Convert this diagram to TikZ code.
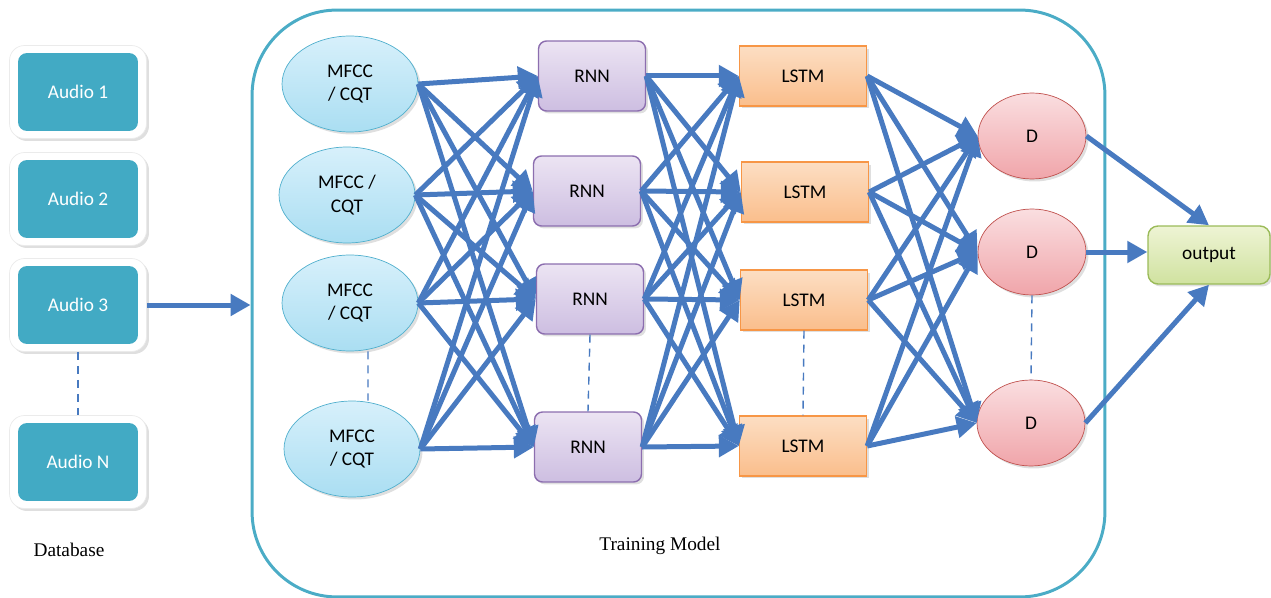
\documentclass[tikz,border=0pt]{standalone}
\usepackage{fontspec}
\setmainfont{Liberation Serif}
\newfontfamily\calib{Carlito}
\usetikzlibrary{arrows.meta, shapes.geometric, shadows}

\definecolor{audiofill}{RGB}{66,170,196}
\definecolor{modelline}{RGB}{75,172,198}
\definecolor{linkblue}{RGB}{72,122,192}
\definecolor{mfccline}{RGB}{80,175,205}
\definecolor{mfcctop}{RGB}{215,240,251}
\definecolor{mfccbot}{RGB}{170,222,242}
\definecolor{rnnline}{RGB}{140,110,175}
\definecolor{rnntop}{RGB}{236,228,243}
\definecolor{rnnbot}{RGB}{205,190,225}
\definecolor{lstmline}{RGB}{247,150,70}
\definecolor{lstmtop}{RGB}{252,222,195}
\definecolor{lstmbot}{RGB}{250,190,140}
\definecolor{dline}{RGB}{192,80,77}
\definecolor{dtop}{RGB}{250,222,224}
\definecolor{dbot}{RGB}{240,165,170}
\definecolor{outline}{RGB}{155,187,89}
\definecolor{outtop}{RGB}{238,244,212}
\definecolor{outbot}{RGB}{208,226,160}

\tikzset{
  soft/.style={drop shadow={shadow xshift=0.05cm, shadow yshift=-0.05cm, opacity=0.25}},
  audioframe/.style={rectangle, rounded corners=0.3cm, fill=white, draw=black!8, soft,
    minimum width=2.74cm, minimum height=1.86cm},
  audiobox/.style={rectangle, rounded corners=0.18cm, fill=audiofill, text=white,
    font=\calib\fontsize{11}{13}\selectfont, minimum width=2.4cm, minimum height=1.56cm},
  mfcc/.style={ellipse, draw=mfccline, top color=mfcctop, bottom color=mfccbot, soft,
    minimum width=2.72cm, minimum height=1.92cm, align=center, inner sep=0pt,
    font=\calib\fontsize{11}{13.5}\selectfont},
  rnn/.style={rectangle, rounded corners=0.16cm, draw=rnnline, line width=0.8pt,
    top color=rnntop, bottom color=rnnbot, soft,
    minimum width=2.14cm, minimum height=1.4cm, font=\calib\fontsize{11}{13}\selectfont},
  lstm/.style={rectangle, draw=lstmline, line width=0.8pt,
    top color=lstmtop, bottom color=lstmbot, soft,
    minimum width=2.54cm, minimum height=1.2cm, font=\calib\fontsize{11}{13}\selectfont},
  dnode/.style={ellipse, draw=dline, top color=dtop, bottom color=dbot, soft,
    minimum width=2.16cm, minimum height=1.72cm, font=\calib\fontsize{11}{13}\selectfont},
  outbox/.style={rectangle, rounded corners=0.2cm, draw=outline, line width=0.8pt,
    top color=outtop, bottom color=outbot, soft,
    minimum width=2.44cm, minimum height=1.16cm, font=\calib\fontsize{11}{13}\selectfont},
  conn/.style={draw=linkblue, line width=0.1cm, -{Triangle[length=0.4cm, width=0.42cm]}},
  dots/.style={draw=linkblue, line width=0.8pt, dash pattern=on 0.16cm off 0.12cm},
  caption/.style={font=\fontsize{11}{13}\selectfont}
}

\begin{document}
\begin{tikzpicture}[x=0.02cm, y=-0.02cm]
  \useasboundingbox (0,0) rectangle (1271,598);

  % database
  \node[audioframe] (a1b) at (78,92) {};
  \node[audiobox] (a1) at (78,92) {Audio 1};
  \node[audioframe] (a2b) at (78,199) {};
  \node[audiobox] (a2) at (78,199) {Audio 2};
  \node[audioframe] (a3b) at (78,305) {};
  \node[audiobox] (a3) at (78,305) {Audio 3};
  \node[audioframe] (anb) at (78,462) {};
  \node[audiobox] (an) at (78,462) {Audio N};
  \draw[dots] (a3b.south) -- (anb.north);
  \node[caption] (db) at (69,550) {Database};

  % training model
  \node[draw=modelline, line width=1.7pt, rounded corners=1.7cm,
        minimum width=17.06cm, minimum height=11.74cm] (model) at (678.5,303.5) {};
  \node[caption] (tm) at (660,546) {Training Model};

  \node[mfcc] (m1) at (350,84) {MFCC\\/ CQT};
  \node[mfcc] (m2) at (347,195) {MFCC /\\CQT};
  \node[mfcc] (m3) at (350,303) {MFCC\\/ CQT};
  \node[mfcc] (m4) at (352,449) {MFCC\\/ CQT};

  \node[rnn] (r1) at (592,76) {RNN};
  \node[rnn] (r2) at (587,191) {RNN};
  \node[rnn] (r3) at (590,299) {RNN};
  \node[rnn] (r4) at (588,447) {RNN};

  \node[lstm] (l1) at (803,76) {LSTM};
  \node[lstm] (l2) at (805,192) {LSTM};
  \node[lstm] (l3) at (804,300) {LSTM};
  \node[lstm] (l4) at (803,446) {LSTM};

  \node[dnode] (d1) at (1032,136) {D};
  \node[dnode] (d2) at (1032,252) {D};
  \node[dnode] (d3) at (1031,423) {D};

  \node[outbox] (out) at (1209,255) {output};

  \draw[dots] ([xshift=0.36cm]m3.south) -- ([xshift=0.32cm]m4.north);
  \draw[dots] (r3.south) -- (r4.north);
  \draw[dots] (l3.south) -- (l4.north);
  \draw[dots] (d2.south) -- (d3.north);

  \draw[conn] (a3b.east) -- (model.west |- a3b.east);

  \foreach \i in {1,...,4}
    \foreach \j in {1,...,4} {
      \draw[conn] (m\i.east) -- (r\j.west);
      \draw[conn] (r\i.east) -- (l\j.west);
    }
  \foreach \i in {1,...,4}
    \foreach \j in {1,2,3}
      \draw[conn] (l\i.east) -- (d\j.west);

  \draw[conn] (d1.east) -- (out.north);
  \draw[conn] (d2.east) -- (out.west |- d2.east);
  \draw[conn] (d3.east) -- (out.south);
\end{tikzpicture}
\end{document}
